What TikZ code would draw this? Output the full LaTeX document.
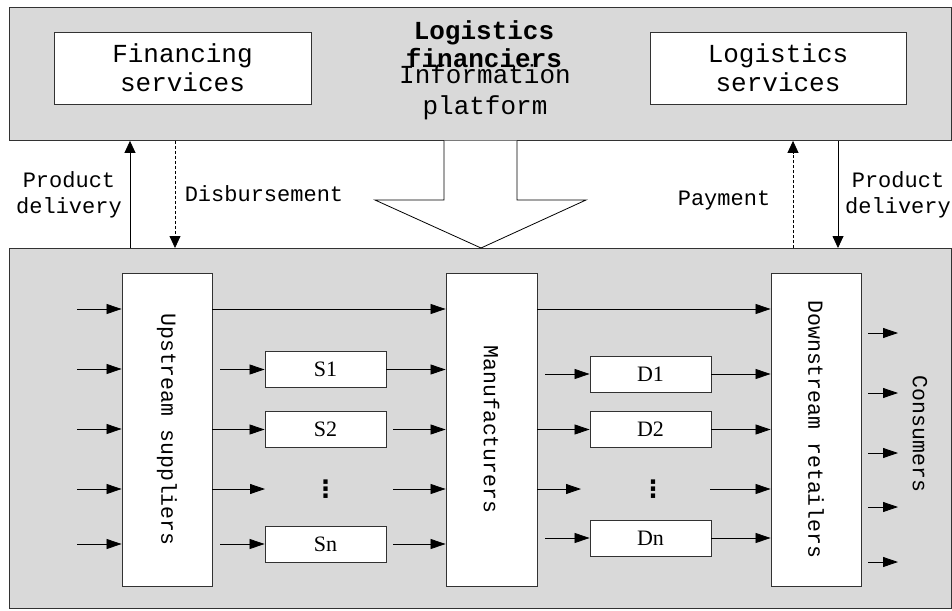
\documentclass[tikz,border=0pt]{standalone}
\usepackage{fontspec}
\usetikzlibrary{arrows.meta}
\newfontfamily\monof{Liberation Mono}
\newfontfamily\seriff{Liberation Serif}
\newfontfamily\symf{DejaVu Sans}
\definecolor{panelgray}{RGB}{217,217,217}
\definecolor{edgec}{RGB}{50,50,50}
\begin{document}
\begin{tikzpicture}[x=1pt,y=-1pt,
  panel/.style={draw=edgec, line width=0.9pt, fill=panelgray, inner sep=0pt, anchor=north west},
  wbox/.style={draw=edgec, line width=0.9pt, fill=white, inner sep=0pt},
  boxtxt/.style={font=\monof\fontsize{26}{29}\selectfont, align=center},
  titletxt/.style={font=\monof\bfseries\fontsize{26}{28}\selectfont, align=center, inner sep=0pt},
  infotxt/.style={font=\monof\fontsize{26}{31}\selectfont, align=center, inner sep=0pt},
  lbl/.style={font=\monof\fontsize{22}{26}\selectfont, align=center, inner sep=0pt},
  vtxt/.style={font=\monof\fontsize{21.5}{24}\selectfont, inner sep=0pt},
  sbtxt/.style={font=\seriff\fontsize{22}{24}\selectfont},
  dotstxt/.style={font=\symf\bfseries\fontsize{24}{24}\selectfont, inner sep=0pt},
  arr/.style={-{Triangle[length=15pt,width=10pt]}, line width=0.8pt, draw=black},
  arrT/.style={-{Triangle[length=12pt,width=11pt]}, line width=0.8pt, draw=black},
  darrT/.style={arrT, dash pattern=on 3pt off 2pt}
]
\useasboundingbox (0,0) rectangle (952,610);

% panels
\node[panel, minimum width=942, minimum height=133] (toppanel) at (9,7) {};
\node[panel, minimum width=942, minimum height=360] (botpanel) at (9,248) {};

% top boxes and texts
\node[wbox, boxtxt, minimum width=257, minimum height=72] (fin) at (182.5,68) {Financing\\services};
\node[wbox, boxtxt, minimum width=256, minimum height=72] (logs) at (778,68) {Logistics\\services};
\node[titletxt] (title) at (484,44) {Logistics\\financiers};
\node[infotxt] (info) at (485,92.5) {Information\\platform};

% big hollow arrow
\draw[line width=0.8pt, draw=black, fill=white]
  (444,140.5) -- (444,200) -- (375,200) -- (481,248) -- (586,200) -- (517,200) -- (517,140.5);

% vertical connectors between panels
\coordinate (cx1) at (130,0);
\coordinate (cx2) at (175,0);
\coordinate (cx3) at (793,0);
\coordinate (cx4) at (838,0);
\draw[arrT] (botpanel.north -| cx1) -- (toppanel.south -| cx1);
\draw[darrT] (toppanel.south -| cx2) -- (botpanel.north -| cx2);
\draw[darrT] (botpanel.north -| cx3) -- (toppanel.south -| cx3);
\draw[arrT] (toppanel.south -| cx4) -- (botpanel.north -| cx4);

\node[lbl] (pdl) at (69,195) {Product\\delivery};
\node[lbl] (disb) at (264,194) {Disbursement};
\node[lbl] (pay) at (724,200) {Payment};
\node[lbl] (pdr) at (898,195) {Product\\delivery};

% main column boxes
\node[wbox, minimum width=90, minimum height=313] (ups) at (167,429.5) {};
\node[wbox, minimum width=91, minimum height=313] (manu) at (491.5,429.5) {};
\node[wbox, minimum width=90, minimum height=313] (down) at (816,429.5) {};
\node[vtxt, rotate=-90] (upst) at (ups.center) {Upstream suppliers};
\node[vtxt, rotate=-90] (manut) at (manu.center) {Manufacturers};
\node[vtxt, rotate=-90] (downt) at (down.center) {Downstream retailers};
\node[vtxt, rotate=-90] (cons) at (920,434) {Consumers};

% S boxes
\node[wbox, sbtxt, minimum width=121, minimum height=36] (s1) at (325.5,369.5) {S1};
\node[wbox, sbtxt, minimum width=121, minimum height=36] (s2) at (325.5,429.5) {S2};
\node[dotstxt] (sd) at (325.5,489) {⋮};
\node[wbox, sbtxt, minimum width=121, minimum height=36] (sn) at (325.5,544) {Sn};

% D boxes
\node[wbox, sbtxt, minimum width=121, minimum height=36] (d1) at (650.5,374) {D1};
\node[wbox, sbtxt, minimum width=121, minimum height=36] (d2) at (650.5,429.5) {D2};
\node[dotstxt] (dd) at (653,489) {⋮};
\node[wbox, sbtxt, minimum width=121, minimum height=36] (dn) at (650.5,538) {Dn};

% inputs to upstream suppliers
\foreach \yy [count=\i] in {309,369,429,489,544} {
  \coordinate (in\i) at (77,\yy);
  \draw[arr] (in\i) -- (in\i -| ups.west);
}

% upstream -> manufacturers
\draw[arr] (ups.east |- in1) -- (manu.west |- in1);
\coordinate (s1a) at (220,369.5);
\draw[arr] (s1a) -- (s1.west);
\draw[arr] (s1.east) -- (s1.east -| manu.west);
\draw[arr] (ups.east |- s2) -- (s2.west);
\coordinate (s2b) at (393,429.5);
\draw[arr] (s2b) -- (s2b -| manu.west);
\coordinate (sdl) at (265,489);
\draw[arr] (ups.east |- sd) -- (sdl);
\coordinate (sdr) at (393,489);
\draw[arr] (sdr) -- (sdr -| manu.west);
\coordinate (sna) at (220,544);
\draw[arr] (sna) -- (sn.west);
\coordinate (snb) at (393,544);
\draw[arr] (snb) -- (snb -| manu.west);

% manufacturers -> downstream retailers
\draw[arr] (manu.east |- in1) -- (down.west |- in1);
\coordinate (d1a) at (545,374);
\draw[arr] (d1a) -- (d1.west);
\draw[arr] (d1.east) -- (d1.east -| down.west);
\draw[arr] (manu.east |- d2) -- (d2.west);
\draw[arr] (d2.east) -- (d2.east -| down.west);
\coordinate (ddl) at (581,489);
\draw[arr] (manu.east |- dd) -- (ddl);
\coordinate (ddr) at (710,489);
\draw[arr] (ddr) -- (ddr -| down.west);
\coordinate (dna) at (545,538);
\draw[arr] (dna) -- (dn.west);
\draw[arr] (dn.east) -- (dn.east -| down.west);

% outputs to consumers
\foreach \yy [count=\i] in {333,393,453,507,562} {
  \coordinate (ca\i) at (868,\yy);
  \coordinate (cb\i) at (898,\yy);
  \draw[arr] (ca\i) -- (cb\i);
}
\end{tikzpicture}
\end{document}
